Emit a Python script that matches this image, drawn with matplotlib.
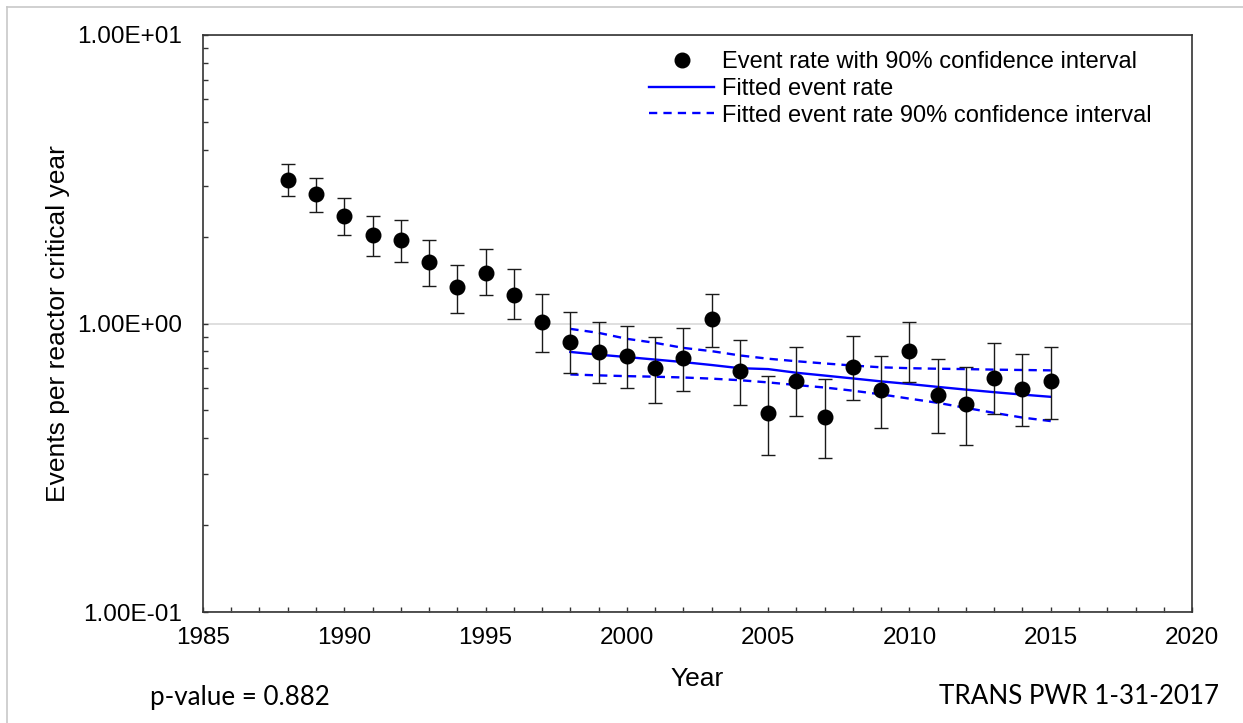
import matplotlib.pyplot as plt
import matplotlib.ticker as mticker
from matplotlib.lines import Line2D

# Observed event rates with 90% confidence interval
years = list(range(1988, 2016))
rate = [3.14, 2.80, 2.35, 2.02, 1.94, 1.63, 1.34, 1.50, 1.26, 1.01,
        0.864, 0.795, 0.773, 0.700, 0.758, 1.04, 0.686, 0.488, 0.631, 0.473,
        0.706, 0.587, 0.806, 0.564, 0.524, 0.648, 0.594, 0.631]
rate_hi = [3.57, 3.19, 2.73, 2.35, 2.28, 1.94, 1.59, 1.81, 1.55, 1.27,
           1.10, 1.013, 0.984, 0.897, 0.963, 1.27, 0.878, 0.660, 0.826, 0.641,
           0.906, 0.770, 1.01, 0.754, 0.708, 0.855, 0.787, 0.828]
rate_lo = [2.77, 2.43, 2.03, 1.71, 1.64, 1.35, 1.09, 1.26, 1.04, 0.798,
           0.676, 0.621, 0.597, 0.532, 0.584, 0.828, 0.523, 0.351, 0.477, 0.343,
           0.544, 0.435, 0.628, 0.417, 0.378, 0.486, 0.440, 0.466]

# Fitted trend (1998-2015)
fit_years = list(range(1998, 2016))
fit = [0.797, 0.780, 0.765, 0.750, 0.735, 0.718, 0.700, 0.695, 0.675, 0.660,
       0.645, 0.630, 0.617, 0.603, 0.590, 0.578, 0.567, 0.557]
fit_hi = [0.958, 0.928, 0.885, 0.857, 0.823, 0.802, 0.775, 0.755, 0.740, 0.727,
          0.715, 0.705, 0.700, 0.697, 0.695, 0.692, 0.690, 0.688]
fit_lo = [0.666, 0.661, 0.657, 0.654, 0.650, 0.644, 0.636, 0.625, 0.612, 0.600,
          0.585, 0.568, 0.549, 0.531, 0.510, 0.490, 0.472, 0.459]

plt.rcParams["font.family"] = ["Liberation Sans", "DejaVu Sans"]

fig = plt.figure(figsize=(12.43, 7.23), dpi=100)
ax = fig.add_axes([0.1633, 0.1535, 0.7957, 0.7981])

yerr = [[r - l for r, l in zip(rate, rate_lo)], [h - r for r, h in zip(rate, rate_hi)]]
ax.errorbar(years, rate, yerr=yerr, fmt="none", ecolor="#1a1a1a", elinewidth=1.0,
            capsize=4.7, capthick=1.0, zorder=3)
ax.plot(years, rate, "o", color="black", markersize=10.5, zorder=4,
        label="Event rate with 90% confidence interval")
ax.plot(fit_years, fit, "-", color="#0000ff", lw=1.7, zorder=2, label="Fitted event rate")
ax.plot(fit_years, fit_hi, "--", color="#0000ff", lw=1.7, dashes=(3.5, 2.6), zorder=2,
        label="Fitted event rate 90% confidence interval")
ax.plot(fit_years, fit_lo, "--", color="#0000ff", lw=1.7, dashes=(3.5, 2.6), zorder=2)

ax.set_yscale("log")
ax.set_ylim(0.1, 10)
ax.set_xlim(1985, 2020)

ax.xaxis.set_major_locator(mticker.MultipleLocator(5))
ax.xaxis.set_minor_locator(mticker.MultipleLocator(1))
ax.yaxis.set_major_locator(mticker.FixedLocator([0.1, 1, 10]))
ax.yaxis.set_minor_locator(mticker.LogLocator(base=10, subs=range(2, 10)))
ax.yaxis.set_minor_formatter(mticker.NullFormatter())
ax.yaxis.set_major_formatter(mticker.FuncFormatter(
    lambda v, pos: "%.2E" % v))

ax.tick_params(axis="both", which="both", direction="in", length=3.6, width=1,
               colors="#333333", labelcolor="black")
ax.tick_params(axis="y", which="major", labelsize=17.5, pad=15)
ax.tick_params(axis="x", which="major", labelsize=17.5, pad=11)

ax.grid(True, axis="y", which="major", color="#d9d9d9", lw=1.2, zorder=0)
ax.set_axisbelow(True)
for s in ax.spines.values():
    s.set_color("#333333")
    s.set_linewidth(1.2)

ax.set_xlabel("Year", fontsize=19, labelpad=13)
ax.set_ylabel("Events per reactor critical year", fontsize=19, labelpad=5.5)

leg = ax.legend(loc="upper left", frameon=False, fontsize=17, handlelength=2.75,
                handletextpad=0.34, labelspacing=0.2, borderaxespad=0.0,
                borderpad=0.0, bbox_to_anchor=(0.451, 0.972))

fig.text(0.193, 0.035, "p-value = 0.882", fontsize=18.7, family=["Lato", "DejaVu Sans"],
         ha="center", va="center")
fig.text(0.868, 0.036, "TRANS PWR 1-31-2017", fontsize=18.7, family=["Lato", "DejaVu Sans"],
         ha="center", va="center")

# light frame around the picture
fig.add_artist(Line2D([0.006, 0.006], [0.0, 0.991], color="#c8c8c8", lw=1.2))
fig.add_artist(Line2D([0.006, 1.0], [0.991, 0.991], color="#c8c8c8", lw=1.2))

fig.savefig("out.png", dpi=100)
